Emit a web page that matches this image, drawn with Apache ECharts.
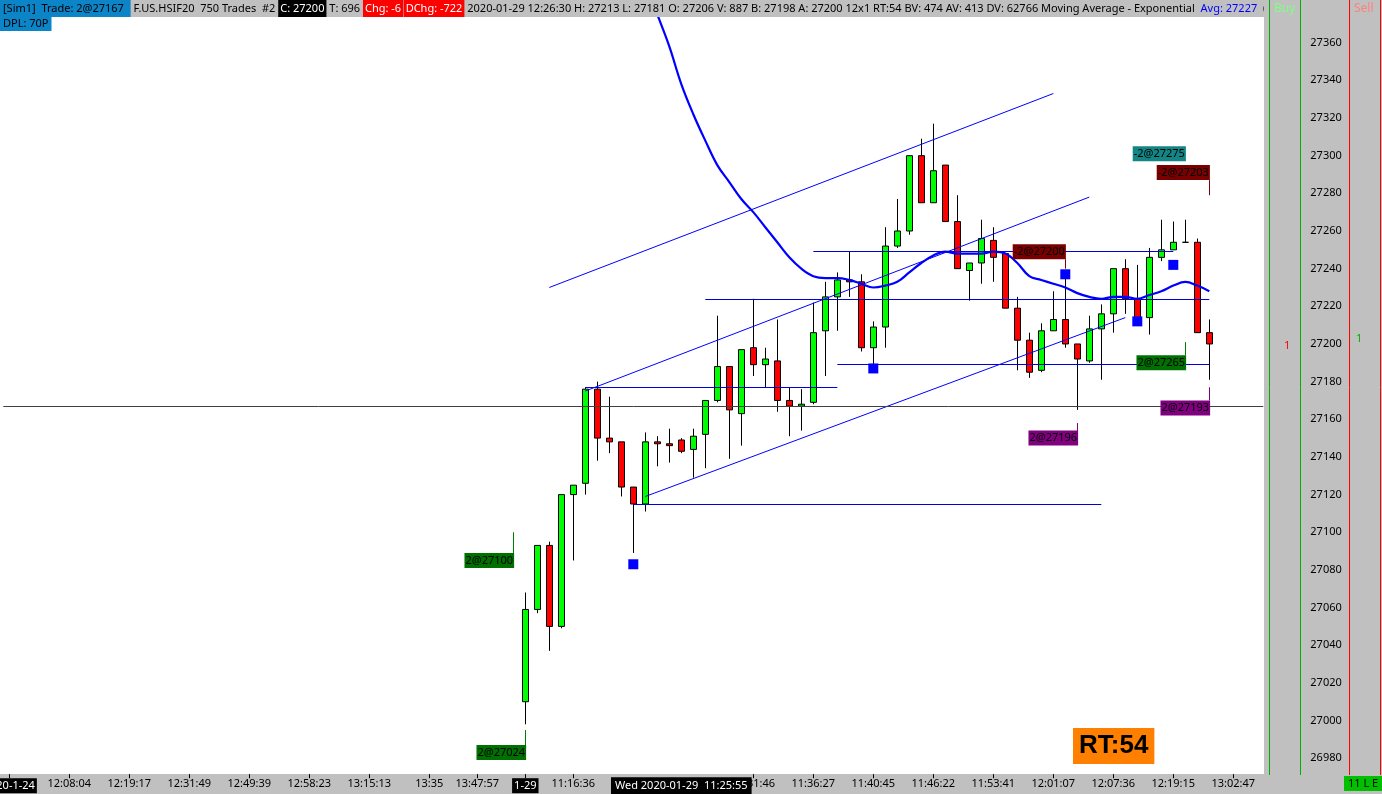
<!DOCTYPE html>
<html><head><meta charset="utf-8">
<style>html,body{margin:0;padding:0;background:#c0c0c0;}#c{width:1382px;height:794px;}</style>
<script src="https://cdn.jsdelivr.net/npm/echarts@6/dist/echarts.min.js"></script>
</head><body><div id="c"></div>
<script>
// ---------- data ----------
const firstSlot = -43;           // first category slot (previous session, off-scale)
const slotCount = 105;
const categories = Array.from({length: slotCount}, (_, i) => String(i + firstSlot));

// candles of 2020-01-29 session, bar 0..57
const opens  = [27010,27059,27093,27050,27120,27126,27176,27150,27148,27124,27115,27148,27147,27149,27144,27152,27170,27188,27163,27198,27189,27191,27170,27167,27169,27207,27225,27234,27233,27198,27209,27252,27260,27300,27275,27295,27265,27239,27243,27255,27248,27219,27202,27186,27207,27213,27200,27191,27208,27216,27240,27224,27214,27246,27250,27254,27254,27206];
const closes = [27059,27093,27050,27120,27125,27176,27150,27148,27124,27115,27148,27147,27146,27143,27151,27170,27188,27165,27197,27189,27192,27170,27167,27168,27206,27225,27234,27233,27198,27209,27252,27260,27300,27275,27292,27265,27240,27243,27256,27246,27219,27202,27185,27207,27213,27200,27192,27208,27216,27240,27224,27214,27246,27250,27254,27254,27206,27200];
const lows   = [26998,27057,27037,27049,27085,27120,27138,27142,27119,27089,27111,27135,27137,27142,27129,27134,27169,27139,27146,27183,27177,27164,27151,27154,27168,27183,27207,27225,27196,27189,27198,27251,27258,27275,27275,27265,27240,27223,27232,27233,27219,27186,27182,27185,27207,27198,27165,27190,27181,27206,27216,27214,27205,27244,27250,27254,27206,27181];
const highs  = [27068,27093,27095,27120,27125,27177,27180,27172,27148,27124,27153,27151,27155,27150,27155,27170,27215,27188,27197,27224,27198,27213,27177,27176,27222,27233,27238,27249,27237,27212,27262,27277,27300,27309,27317,27295,27279,27243,27266,27262,27248,27225,27206,27211,27228,27235,27200,27215,27221,27240,27245,27242,27251,27266,27265,27266,27256,27213];

// exponential moving average, bars 10..57
const emaStart = 10;
const emaValues = [27392,27375,27358,27338,27322,27308,27295,27286,27277,27270,27262,27254,27246,27240,27236,27235,27235,27234,27232,27230,27231,27233,27238,27243,27247,27249,27248,27248,27248,27249,27248,27243,27236,27234,27232,27230,27227,27225,27224,27225,27225,27224,27226,27228,27231,27233,27231,27228];

// blue signal squares
const markerBars   = [9, 29, 45, 51, 54];
const markerPrices = [27083, 27187, 27237, 27212, 27242];

// horizontal drawn levels
const levelPrices   = [27177, 27224, 27249, 27189, 27115];
const levelFromBars = [5, 15, 24, 26, 9];
const levelToBars   = [26, 57, 54, 57, 48];

// trend channel lines
const channelFromBars   = [2, 5, 10];
const channelFromPrices = [27230, 27175, 27119];
const channelToBars     = [44, 47, 50];
const channelToPrices   = [27333, 27278, 27214];

// execution labels
const tradeTexts  = ['2@27100','2@27024','-2@27200','2@27196','2@27265','2@27193','-2@27275','-2@27203'];
const tradeBars   = [-1, 0, 45, 46, 55, 57, 55, 57];
const tradePrices = [27085, 26983, 27249, 27150, 27190, 27166, 27301, 27291];
const tradeColors = ['#007000','#007000','#7a0000','#800080','#007000','#800080','#138585','#7a0000'];
const tradeShift  = [-24, -24, -26, -24, -24, -24, -26, -26];

// connector ticks from labels to executions
const connBars   = [-1, 0, 45, 46, 55, 57, 57];
const connFrom   = [27089, 26987, 27245, 27152, 27194, 27170, 27287];
const connTo     = [27100, 26995, 27240, 27158, 27201, 27177, 27279];
const connColors = ['#008000','#008000','#800000','#800080','#008000','#800080','#800000'];

// axis labels
const tickBars  = [-43, -38, -33, -28, -23, -18, -13, -8, -4, 0, 4, 19, 24, 29, 34, 39, 44, 49, 54, 59];
const tickTexts = ['2020-1-24','12:08:04','12:19:17','12:31:49','12:49:39','12:58:23','13:15:13','13:35','13:47:57','1-29','11:16:36','11:31:46','11:36:27','11:40:45','11:46:22','11:53:41','12:01:07','12:07:36','12:19:15','13:02:47'];
const dateTickBars = [-43, 0];
const crossBar = 13;
const crossPrice = 27167;
const crossText = 'Wed 2020-01-29  11:25:55';
const lastPrice = 27200;

// ---------- build ----------
const FF = '"Noto Sans", sans-serif';
const candleData = categories.map(c => {
  const k = +c;
  return (k >= 0 && k < opens.length) ? [opens[k], closes[k], lows[k], highs[k]] : '-';
});
const emaData = categories.map(c => {
  const k = +c - emaStart;
  return (k >= 0 && k < emaValues.length) ? emaValues[k] : null;
});
const tickMap = {};
tickBars.forEach((b, i) => tickMap[String(b)] = tickTexts[i]);
const showTick = (idx, val) => tickMap[categories[idx]] !== undefined;

const levelLines = levelPrices.map((p, i) => [
  {coord: [String(levelFromBars[i]), p], lineStyle: {color: '#0000dd', width: 1, type: 'solid', opacity: 1}},
  {coord: [String(levelToBars[i]), p]}
]);
const channelLines = channelFromBars.map((b, i) => [
  {coord: [String(b), channelFromPrices[i]], lineStyle: {color: '#0000ff', width: 1, type: 'solid', opacity: 1}},
  {coord: [String(channelToBars[i]), channelToPrices[i]]}
]);
const connLines = connBars.map((b, i) => [
  {coord: [String(b), connFrom[i]], lineStyle: {color: connColors[i], width: 1, type: 'solid', opacity: 1}},
  {coord: [String(b), connTo[i]]}
]);

const txt = (extra) => Object.assign({color: '#000', fontSize: 11, fontFamily: FF, fontWeight: 'normal', height: 17, lineHeight: 17}, extra);

const option = {
  animation: false,
  backgroundColor: '#c0c0c0',
  textStyle: {fontFamily: FF},
  title: [{
    left: 0, top: 0, padding: 0, z: 8,
    text: '{b|[Sim1]  Trade: 2@27167  }{g| F.US.HSIF20  750 Trades  #2 }{k|C: 27200}{g| T: 696 }{r|Chg: -6}{s| }{r|DChg: -722}{g| 2020-01-29 12:26:30 H: 27213 L: 27181 O: 27206 V: 887 B: 27198 A: 27200 12x1 RT:54 BV: 474 AV: 413 DV: 62766 Moving Average - Exponential  }{a|Avg: 27227}{g|  (L}',
    textStyle: {
      fontSize: 11, fontFamily: FF, fontWeight: 'normal',
      rich: {
        b: txt({backgroundColor: '#0b84c8', padding: [0, 1, 0, 3]}),
        g: txt({}),
        k: txt({backgroundColor: '#000', color: '#fff', padding: [0, 2]}),
        r: txt({backgroundColor: '#ff0000', color: '#fff', padding: [0, 2]}),
        s: txt({fontSize: 2}),
        a: txt({color: '#0000ff'})
      }
    }
  }, {
    left: 0, top: 17, padding: 0, z: 8,
    text: '{b|DPL: 70P}',
    textStyle: {fontWeight: 'normal', rich: {b: txt({backgroundColor: '#0b84c8', height: 14, lineHeight: 14, padding: [0, 3]})}}
  }],
  grid: {left: 3.3, right: 118.7, top: 5.04, bottom: 35.8, containLabel: false, outerBoundsMode: 'none'},
  xAxis: [{
    type: 'category', data: categories, boundaryGap: true, position: 'bottom', offset: 16, z: 10,
    axisLine: {show: false},
    axisTick: {show: true, interval: showTick, alignWithLabel: true, length: 4, lineStyle: {color: '#000'}},
    axisLabel: {
      interval: showTick, margin: 4, color: '#000', fontSize: 11, fontFamily: FF,
      formatter: v => {
        const t = tickMap[v];
        if (t === undefined) return '';
        return dateTickBars.indexOf(+v) >= 0 ? '{d|' + t + '}' : t;
      },
      rich: {d: {backgroundColor: '#000', color: '#fff', padding: [2, 2], fontSize: 11, fontFamily: FF}}
    },
    splitLine: {show: false}
  }, {
    type: 'category', data: categories, boundaryGap: true, position: 'bottom', offset: 16, z: 11,
    axisLine: {show: false}, axisTick: {show: false}, splitLine: {show: false},
    axisLabel: {
      interval: (idx) => categories[idx] === String(crossBar), margin: 3,
      formatter: () => '{c|' + crossText + '}',
      rich: {c: {backgroundColor: '#000', color: '#fff', padding: [3, 4], fontSize: 11, fontFamily: FF}}
    }
  }],
  yAxis: {
    type: 'value', position: 'right', min: 26980, max: 27380, interval: 20, z: 10,
    axisLine: {show: false}, axisTick: {show: false}, splitLine: {show: false},
    axisLabel: {margin: 47, color: '#000', fontSize: 11, fontFamily: FF, showMaxLabel: false, formatter: v => String(v)}
  },
  series: [{
    type: 'candlestick', name: 'HSIF20', data: candleData, barWidth: 7, z: 3,
    itemStyle: {color: '#00ff00', color0: '#ff0000', borderColor: '#000', borderColor0: '#000', borderColorDoji: '#000', borderWidth: 1}
  }, {
    type: 'line', name: 'EMA', data: emaData, z: 4, smooth: 0.4, showSymbol: false, connectNulls: false,
    lineStyle: {color: '#0000ff', width: 2.2}
  }, {
    type: 'scatter', name: 'signals', z: 5, symbol: 'rect', symbolSize: 10,
    itemStyle: {color: '#0000ff', opacity: 1},
    data: markerBars.map((b, i) => [String(b), markerPrices[i]])
  }, {
    type: 'scatter', name: 'executions', z: 6, symbolSize: 1, itemStyle: {color: 'rgba(0,0,0,0)', opacity: 1},
    data: tradeTexts.map((t, i) => ({
      name: t, value: [String(tradeBars[i]), tradePrices[i]],
      label: {show: true, position: 'inside', formatter: t, offset: [tradeShift[i], 0], backgroundColor: tradeColors[i],
        color: '#000', opacity: 1, fontSize: 11, fontFamily: FF, padding: [1, 1], lineHeight: 13}
    })),
    markLine: {silent: true, symbol: ['none', 'none'], label: {show: false}, data: connLines}
  }, {
    type: 'line', name: 'drawings', data: [], z: 7,
    markLine: {
      silent: true, symbol: ['none', 'none'], label: {show: false},
      data: levelLines.concat(channelLines)
    }
  }, {
    type: 'line', name: 'cursor', data: [], z: 20, clip: false,
    markLine: {
      silent: true, symbol: ['none', 'none'],
      data: [
        [{coord: [String(crossBar), 26971.6], lineStyle: {color: '#404040', width: 1, type: 'solid', opacity: 1}, label: {show: false}},
         {coord: [String(crossBar), 27395]}],
        {yAxis: crossPrice, lineStyle: {color: '#404040', width: 1, type: 'solid', opacity: 1},
          label: {show: true, position: 'end', distance: 46, formatter: String(crossPrice), backgroundColor: '#000', color: '#fff', fontSize: 11, fontFamily: FF, padding: [1, 1]}},
        {yAxis: lastPrice, lineStyle: {opacity: 0, width: 0},
          label: {show: true, position: 'end', distance: 46, formatter: String(lastPrice), backgroundColor: '#000', color: '#fff', fontSize: 11, fontFamily: FF, padding: [1, 1]}}
      ]
    }
  }],
  graphic: [
    {type: 'rect', z: -10, shape: {x: 0, y: 0, width: 1264, height: 774}, style: {fill: '#ffffff'}},
    {type: 'rect', z: 7, shape: {x: 0, y: 0, width: 1268, height: 17}, style: {fill: '#c0c0c0'}},
    {type: 'rect', z: 9, shape: {x: 1264, y: 0, width: 118, height: 794}, style: {fill: '#c0c0c0'}},
    {type: 'line', z: 9, shape: {x1: 1269.5, y1: 0, x2: 1269.5, y2: 775}, style: {stroke: '#00b000', lineWidth: 1}},
    {type: 'line', z: 9, shape: {x1: 1300.5, y1: 0, x2: 1300.5, y2: 775}, style: {stroke: '#00b000', lineWidth: 1}},
    {type: 'line', z: 9, shape: {x1: 1349.5, y1: 0, x2: 1349.5, y2: 775}, style: {stroke: '#ff0000', lineWidth: 1}},
    {type: 'line', z: 9, shape: {x1: 1380.5, y1: 0, x2: 1380.5, y2: 775}, style: {stroke: '#ff0000', lineWidth: 1}},
    {type: 'text', z: 9, x: 1274, y: 3, style: {text: 'Buy', fill: '#80ff80', font: '12px ' + FF}},
    {type: 'text', z: 9, x: 1354, y: 3, style: {text: 'Sell', fill: '#ff8080', font: '12px ' + FF}},
    {type: 'text', z: 9, x: 1284, y: 340, style: {text: '1', fill: '#ff0000', font: '11px ' + FF}},
    {type: 'text', z: 9, x: 1356, y: 333, style: {text: '1', fill: '#00b000', font: '11px ' + FF}},
    {type: 'text', z: 9, x: 1073, y: 728, style: {text: 'RT:54', fill: '#000', backgroundColor: '#ff8000', padding: [5, 6, 5, 6], font: 'bold 26px "Liberation Sans", sans-serif'}},
    {type: 'text', z: 9, x: 1344, y: 776, style: {text: '11 L E', fill: '#000', backgroundColor: '#00c000', padding: [2, 4], font: '11px ' + FF}}
  ]
};
echarts.init(document.getElementById('c')).setOption(option);
</script>
</body></html>
